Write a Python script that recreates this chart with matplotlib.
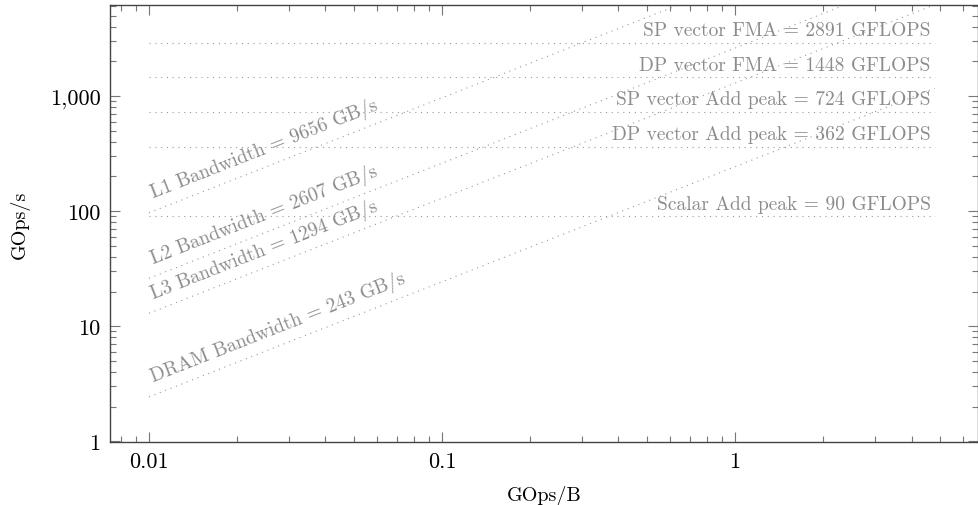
import numpy as np
import matplotlib.pyplot as plt
from matplotlib.ticker import FixedLocator, FuncFormatter, LogLocator, NullFormatter

plt.rcParams['font.family'] = 'serif'
plt.rcParams['font.serif'] = ['cmr10']
plt.rcParams['mathtext.fontset'] = 'cm'
plt.rcParams['axes.formatter.use_mathtext'] = True

# Compute ceilings (GFLOPS) and memory bandwidths (GB/s)
peak_names = ['SP vector FMA', 'DP vector FMA', 'SP vector Add peak',
              'DP vector Add peak', 'Scalar Add peak']
peak_values = [2891, 1448, 724, 362, 90]

bw_names = ['L1 Bandwidth', 'L2 Bandwidth', 'L3 Bandwidth', 'DRAM Bandwidth']
bw_values = [9656, 2607, 1294, 243]

# operational intensity range of the roofs
x_range = [0.01, 4.8]

line_color = '#9a9a9a'
text_color = '#8c8c8c'
dots = (0, (1, 4.2))

fig = plt.figure(figsize=(9.79, 5.06), dpi=100)
ax = fig.add_axes([0.1124, 0.1245, 0.8866, 0.8635])
ax.set_xscale('log')
ax.set_yscale('log')
ax.set_xlim(10 ** -2.133, 10 ** 0.829)
ax.set_ylim(0.985, 10 ** 3.79)

x = np.array(x_range)
for name, val in zip(peak_names, peak_values):
    ax.plot(x, [val, val], color=line_color, lw=0.8, linestyle=dots)
    ax.annotate(f'{name} = {val} GFLOPS', xy=(x_range[1], val),
                xytext=(-3, 5.5), textcoords='offset points',
                ha='right', va='baseline', fontsize=14, color=text_color)

# slope of y = bw * x on screen, for rotating the labels
p0 = ax.transData.transform((0.01, 1))
p1 = ax.transData.transform((1, 100))
angle = np.degrees(np.arctan2(p1[1] - p0[1], p1[0] - p0[0]))

for name, bw in zip(bw_names, bw_values):
    ax.plot(x, bw * x, color=line_color, lw=0.8, linestyle=dots)
    ax.annotate(f'{name} = {bw} GB/s', xy=(x_range[0], bw * x_range[0]),
                xytext=(3, 11), textcoords='offset points',
                ha='left', va='baseline', rotation=angle,
                rotation_mode='anchor', fontsize=14, color=text_color)

ax.xaxis.set_major_locator(FixedLocator([0.01, 0.1, 1]))
ax.xaxis.set_major_formatter(FuncFormatter(lambda v, p: f'{v:g}'))
ax.xaxis.set_minor_locator(LogLocator(base=10, subs=np.arange(2, 10)))
ax.xaxis.set_minor_formatter(NullFormatter())
ax.yaxis.set_major_locator(FixedLocator([1, 10, 100, 1000]))
ax.yaxis.set_major_formatter(FuncFormatter(lambda v, p: f'{v:,.0f}'))
ax.yaxis.set_minor_locator(LogLocator(base=10, subs=np.arange(2, 10)))
ax.yaxis.set_minor_formatter(NullFormatter())

ax.tick_params(which='both', direction='in', top=True, right=True,
               color='#777777', labelsize=16, pad=7)
ax.tick_params(which='major', length=7, width=0.8)
ax.tick_params(which='minor', length=4, width=0.8)
for s in ax.spines.values():
    s.set_color('#444444')
    s.set_linewidth(1.0)

ax.set_xlabel('GOps/B', fontsize=14.5, labelpad=10)
ax.set_ylabel('GOps/s', fontsize=14.5, labelpad=14)

fig.savefig('out.png', dpi=100)
